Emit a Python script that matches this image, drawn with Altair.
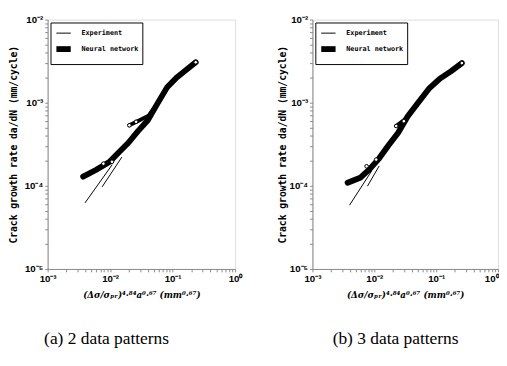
import altair as alt
import pandas as pd

SERIES = ["Experiment", "Neural network"]

# ---- panel (a): 2 data patterns ----
a_nn_x = [0.0037, 0.0059, 0.0097, 0.0137, 0.0196, 0.0279, 0.0398, 0.0568, 0.081, 0.115, 0.164, 0.234]
a_nn_y = [1.29e-4, 1.55e-4, 1.93e-4, 2.52e-4, 3.3e-4, 4.55e-4, 6.1e-4, 9.7e-4, 1.52e-3, 2.0e-3, 2.47e-3, 3.07e-3]
a_br_x = [0.0203, 0.029, 0.0412, 0.0568]
a_br_y = [5.35e-4, 6.1e-4, 7.0e-4, 9.7e-4]
a_e1_x = [0.004, 0.0107]
a_e1_y = [6.3e-5, 1.78e-4]
a_e2_x = [0.0075, 0.0153]
a_e2_y = [9.8e-5, 2.2e-4]
a_c_x = [0.0203, 0.026, 0.0078, 0.0107, 0.234]
a_c_y = [5.35e-4, 5.9e-4, 1.85e-4, 1.95e-4, 3.07e-3]

# ---- panel (b): 3 data patterns ----
b_nn_x = [0.0037, 0.0059, 0.0084, 0.0119, 0.017, 0.0243, 0.0345, 0.0492, 0.078, 0.115, 0.175, 0.26]
b_nn_y = [1.09e-4, 1.25e-4, 1.59e-4, 2.13e-4, 3.08e-4, 4.36e-4, 6.84e-4, 9.66e-4, 1.5e-3, 1.95e-3, 2.4e-3, 3.0e-3]
b_br_x = [0.0226, 0.0345, 0.0492]
b_br_y = [5.25e-4, 6.7e-4, 9.66e-4]
b_e1_x = [0.004, 0.009]
b_e1_y = [5.9e-5, 1.5e-4]
b_e2_x = [0.0078, 0.0119]
b_e2_y = [1.0e-4, 1.72e-4]
b_c_x = [0.0226, 0.03, 0.0075, 0.0107, 0.26]
b_c_y = [5.25e-4, 6.0e-4, 1.72e-4, 2.07e-4, 3.0e-3]

x_ticks = [m * 10.0 ** e for e in range(-3, 0) for m in range(1, 10)] + [1.0]
y_ticks = [m * 10.0 ** e for e in range(-5, -2) for m in range(1, 10)] + [1e-2]

LABEL_EXPR = ("abs(log(datum.value)/LN10 - round(log(datum.value)/LN10)) > 0.01 ? '' : "
              "'10' + ['⁻⁵','⁻⁴','⁻³','⁻²','⁻¹','⁰'][round(log(datum.value)/LN10) + 5]")

X_TITLE = "(Δσ/σₚᵣ)⁴·⁸⁴a⁰·⁶⁷  (mm⁰·⁶⁷)"
Y_TITLE = "Crack  growth  rate da/dN (mm/cycle)"


def panel(nn_x, nn_y, br_x, br_y, e1_x, e1_y, e2_x, e2_y, c_x, c_y, caption, title_pad, width,
          last_right, cap_dx):
    rows = []
    for seg, xs, ys, s in [("nn", nn_x, nn_y, SERIES[1]),
                           ("e1", e1_x, e1_y, SERIES[0]),
                           ("e2", e2_x, e2_y, SERIES[0])]:
        for i, (x, y) in enumerate(zip(xs, ys)):
            rows.append(dict(x=x, y=y, seg=seg, series=s, order=i))
    df = pd.DataFrame(rows)
    br = pd.DataFrame(dict(x=br_x, y=br_y))
    circ = pd.DataFrame(dict(x=c_x, y=c_y))

    xscale = alt.Scale(type="log", domain=[1e-3, 1], nice=False)
    yscale = alt.Scale(type="log", domain=[1e-5, 1e-2], nice=False)
    xaxis_kw = dict(values=x_ticks, labelExpr=LABEL_EXPR, title=X_TITLE, grid=False,
                    labelFlush=False, labelOverlap=False, tickSize=3,
                    labelFont="Liberation Sans", labelFontWeight="bold", labelFontSize=10,
                    titleFont="DejaVu Serif", titleFontSize=9, titleFontWeight="bold",
                    titleFontStyle="italic", titlePadding=8, labelPadding=2)
    if last_right:
        xaxis_kw["labelAlign"] = alt.condition("datum.value >= 0.99", alt.value("right"), alt.value("center"))
    xaxis = alt.Axis(**xaxis_kw)
    yaxis = alt.Axis(values=y_ticks, labelExpr=LABEL_EXPR, title=Y_TITLE, grid=False,
                     labelFlush=False, labelOverlap=False, tickSize=3,
                     labelFont="Liberation Sans", labelFontWeight="bold", labelFontSize=10,
                     titleFont="DejaVu Sans Mono", titleFontSize=10, titleFontWeight="bold",
                     titlePadding=title_pad, labelPadding=2)
    leg = alt.Legend(title=None, orient="top-left", offset=3, strokeColor="black",
                     fillColor="white", padding=3, rowPadding=1,
                     labelFont="DejaVu Sans Mono", labelFontSize=7, labelFontWeight="bold",
                     symbolSize=220, labelLimit=200, labelOffset=8)

    lines = alt.Chart(df).mark_line(strokeCap="round", strokeJoin="round").encode(
        x=alt.X("x:Q", scale=xscale, axis=xaxis),
        y=alt.Y("y:Q", scale=yscale, axis=yaxis),
        detail="seg:N",
        order="order:Q",
        color=alt.Color("series:N", scale=alt.Scale(domain=SERIES, range=["black", "black"]), legend=leg),
        strokeWidth=alt.StrokeWidth("series:N", scale=alt.Scale(domain=SERIES, range=[1, 6]), legend=leg),
    )
    branch = alt.Chart(br).mark_line(color="black", strokeWidth=4, strokeCap="round").encode(
        x=alt.X("x:Q", scale=xscale), y=alt.Y("y:Q", scale=yscale))
    points = alt.Chart(circ).mark_point(shape="circle", filled=True, fill="white",
                                        stroke="black", strokeWidth=1, size=14, opacity=1).encode(
        x=alt.X("x:Q", scale=xscale), y=alt.Y("y:Q", scale=yscale))

    return alt.layer(lines, branch, points).properties(
        width=width, height=258,
        title=alt.TitleParams(caption, orient="bottom", font="Liberation Serif", fontSize=18,
                              fontWeight="normal", color="black", offset=32, dx=cap_dx),
    )


left = panel(a_nn_x, a_nn_y, a_br_x, a_br_y, a_e1_x, a_e1_y, a_e2_x, a_e2_y, a_c_x, a_c_y,
             "(a) 2 data patterns", 6, 194, False, -36)
right = panel(b_nn_x, b_nn_y, b_br_x, b_br_y, b_e1_x, b_e1_y, b_e2_x, b_e2_y, b_c_x, b_c_y,
              "(b) 3 data patterns", 2, 192, True, -10)

chart = alt.hconcat(left, right, spacing=34).resolve_scale(
    color="independent", strokeWidth="independent"
).properties(padding=0).configure_view(
    stroke="black", strokeWidth=1.3
).configure_axis(
    domainColor="black", tickColor="black", labelColor="black", titleColor="black", domainWidth=1.3
).configure(background="white")

chart.save("out.html", embed_options={"renderer": "svg", "actions": False})
